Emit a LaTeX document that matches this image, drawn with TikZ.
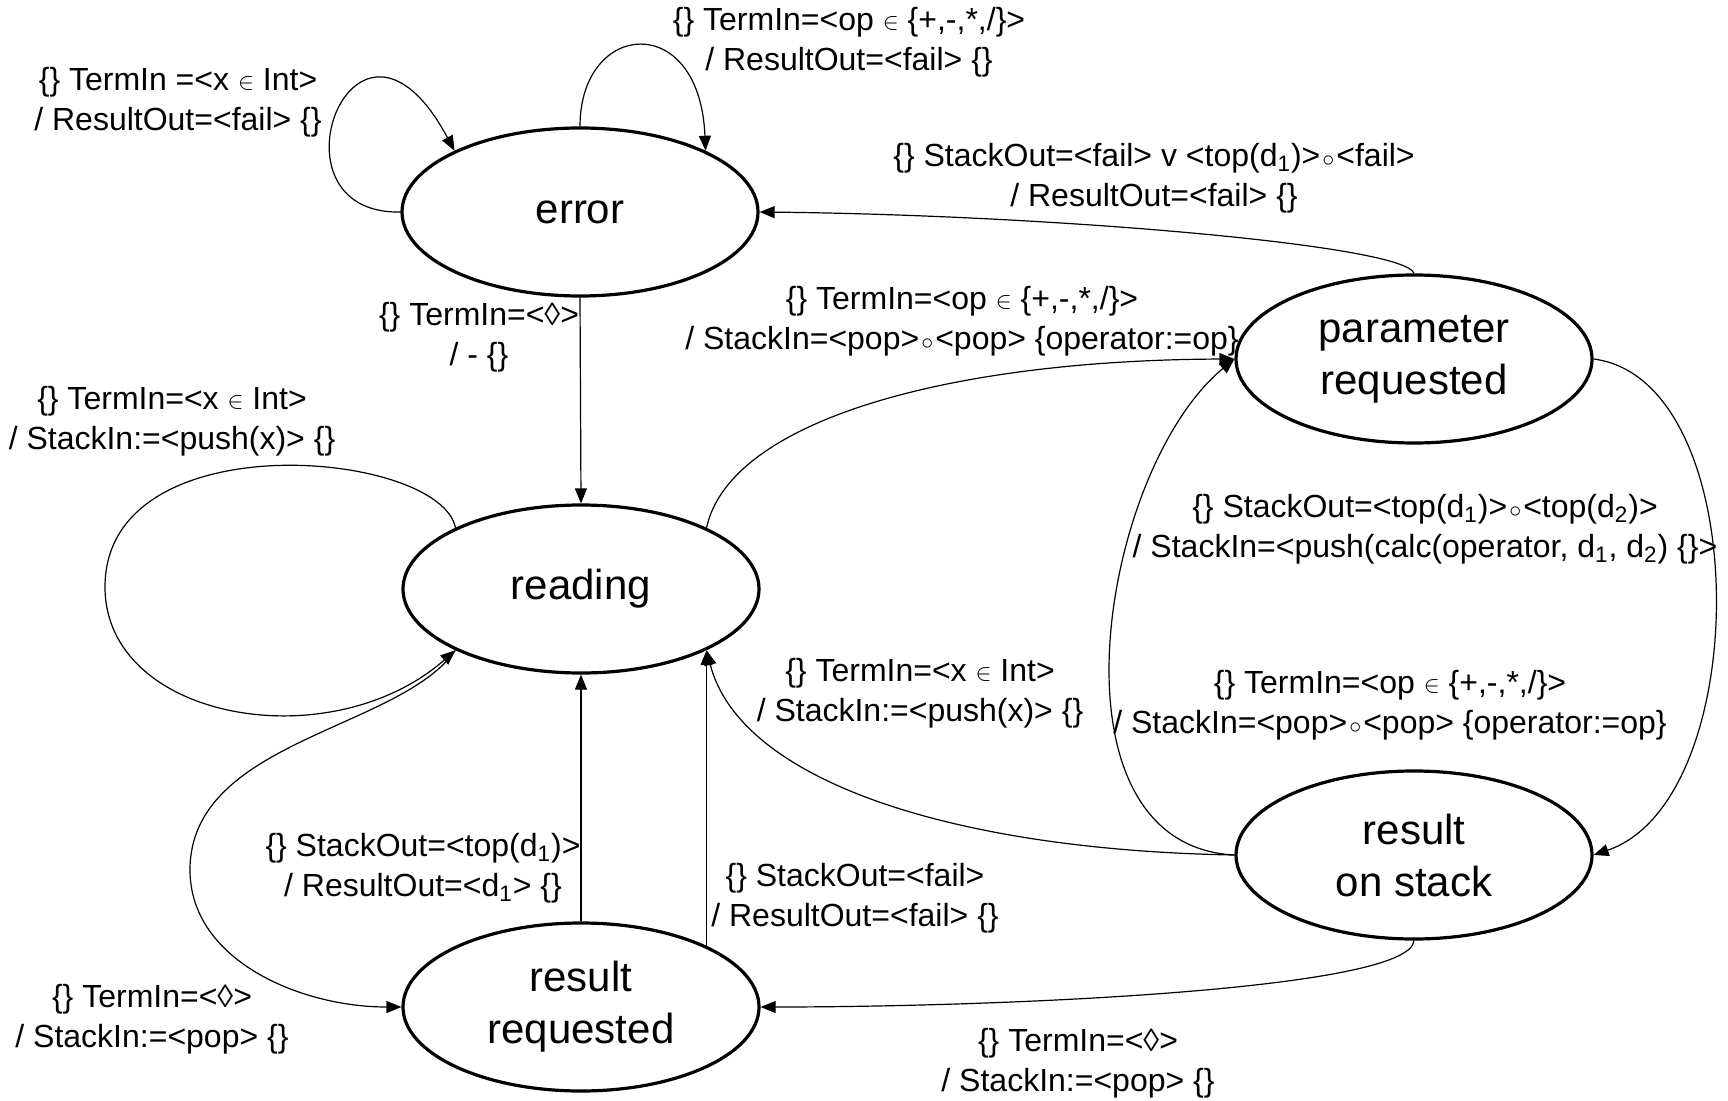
\documentclass[tikz,border=0pt]{standalone}
\usepackage{fontspec}
\setmainfont{Liberation Sans}
\usepackage{tikz}
\usetikzlibrary{arrows.meta, shapes.geometric}
\newcommand{\inop}{\raisebox{0.6pt}{\fontsize{12.5}{12.5}\selectfont$\in$}}
\newcommand{\cmp}{\hspace{1pt}{\fontsize{12}{12}\selectfont$\circ$}\hspace{1pt}}
\tikzset{
  tstate/.style={draw, ellipse, line width=1.6pt, minimum width=178pt, minimum height=84pt, inner sep=0pt, align=center, font=\fontsize{21}{26}\selectfont},
  tflow/.style={-{Triangle[length=7.5pt, width=6pt]}, line width=0.6pt},
  tlbl/.style={align=center, inner sep=0pt, font=\fontsize{16}{20}\selectfont},
}
\begin{document}
\begin{tikzpicture}[x=0.5pt, y=0.5pt]
    \useasboundingbox (0,0) rectangle (1728,-1101);
    \node[tstate] (err) at (580,-212) {error};
    \node[tstate] (rd) at (581,-589) {reading};
    \node[tstate] (rr) at (581,-1007) {result\\requested};
    \node[tstate] (par) at (1414,-359) {parameter\\requested};
    \node[tstate] (ros) at (1414,-855) {result\\on stack};
    \draw[tflow] (err.west) .. controls (260,-215) and (355,35) .. (err.154);
    \draw[tflow] (err.north) .. controls (580,-20) and (700,-10) .. (err.26);
    \draw[tflow] (par.north) .. controls (1405,-245) and (1050,-215) .. (err.east);
    \draw[tflow] (err.south) -- (rd.north);
    \draw[tflow] (rd.154) .. controls (440,-450) and (105,-420) .. (105,-587) .. controls (105,-720) and (330,-760) .. (rd.206);
    \draw[tflow] (rd.26) .. controls (730,-420) and (950,-360) .. (par.west);
    \draw[tflow] (ros.west) .. controls (1040,-845) and (1100,-470) .. (par.west);
    \draw[tflow] (par.east) .. controls (1755,-380) and (1755,-800) .. (ros.east);
    \draw[tflow] (ros.west) .. controls (950,-850) and (740,-780) .. (rd.-26);
    \draw[tflow] (rr.north) -- (rd.south);
    \draw[tflow] (rr.26) -- (rd.-26);
    \draw[tflow] (rd.206) .. controls (400,-730) and (190,-740) .. (190,-870) .. controls (190,-960) and (300,-1007) .. (rr.west);
    \draw[tflow] (ros.south) .. controls (1410,-990) and (1000,-1007) .. (rr.east);
    \node[tlbl] (lErrSelfX) at (178,-102) {\{\} TermIn =<x \inop{} Int>\\/ ResultOut=<fail> \{\}};
    \node[tlbl] (lErrSelfOp) at (849,-42) {\{\} TermIn=<op \inop{} \{+,-,*,/\}>\\/ ResultOut=<fail> \{\}};
    \node[tlbl] (lParErr) at (1154,-178) {\{\} StackOut=<fail> v <top(d\textsubscript{1})>\cmp<fail>\\/ ResultOut=<fail> \{\}};
    \node[tlbl] (lErrRd) at (479,-337) {\{\} TermIn=<◊>\\/ - \{\}};
    \node[tlbl] (lRdSelf) at (172,-421) {\{\} TermIn=<x \inop{} Int>\\/ StackIn:=<push(x)> \{\}};
    \node[tlbl] (lRdPar) at (962,-321) {\{\} TermIn=<op \inop{} \{+,-,*,/\}>\\/ StackIn=<pop>\cmp<pop> \{operator:=op\}};
    \node[tlbl] (lParRos) at (1425,-529) {\{\} StackOut=<top(d\textsubscript{1})>\cmp<top(d\textsubscript{2})>\\/ StackIn=<push(calc(operator, d\textsubscript{1}, d\textsubscript{2}) \{\}>};
    \node[tlbl] (lRosPar) at (1390,-705) {\{\} TermIn=<op \inop{} \{+,-,*,/\}>\\/ StackIn=<pop>\cmp<pop> \{operator:=op\}};
    \node[tlbl] (lRosRd) at (920,-693) {\{\} TermIn=<x \inop{} Int>\\/ StackIn:=<push(x)> \{\}};
    \node[tlbl] (lRrRd) at (423,-868) {\{\} StackOut=<top(d\textsubscript{1})>\\/ ResultOut=<d\textsubscript{1}> \{\}};
    \node[tlbl] (lRrRdFail) at (855,-898) {\{\} StackOut=<fail>\\/ ResultOut=<fail> \{\}};
    \node[tlbl] (lRdRr) at (152,-1019) {\{\} TermIn=<◊>\\/ StackIn:=<pop> \{\}};
    \node[tlbl] (lRosRr) at (1078,-1063) {\{\} TermIn=<◊>\\/ StackIn:=<pop> \{\}};
  \end{tikzpicture}
\end{document}
